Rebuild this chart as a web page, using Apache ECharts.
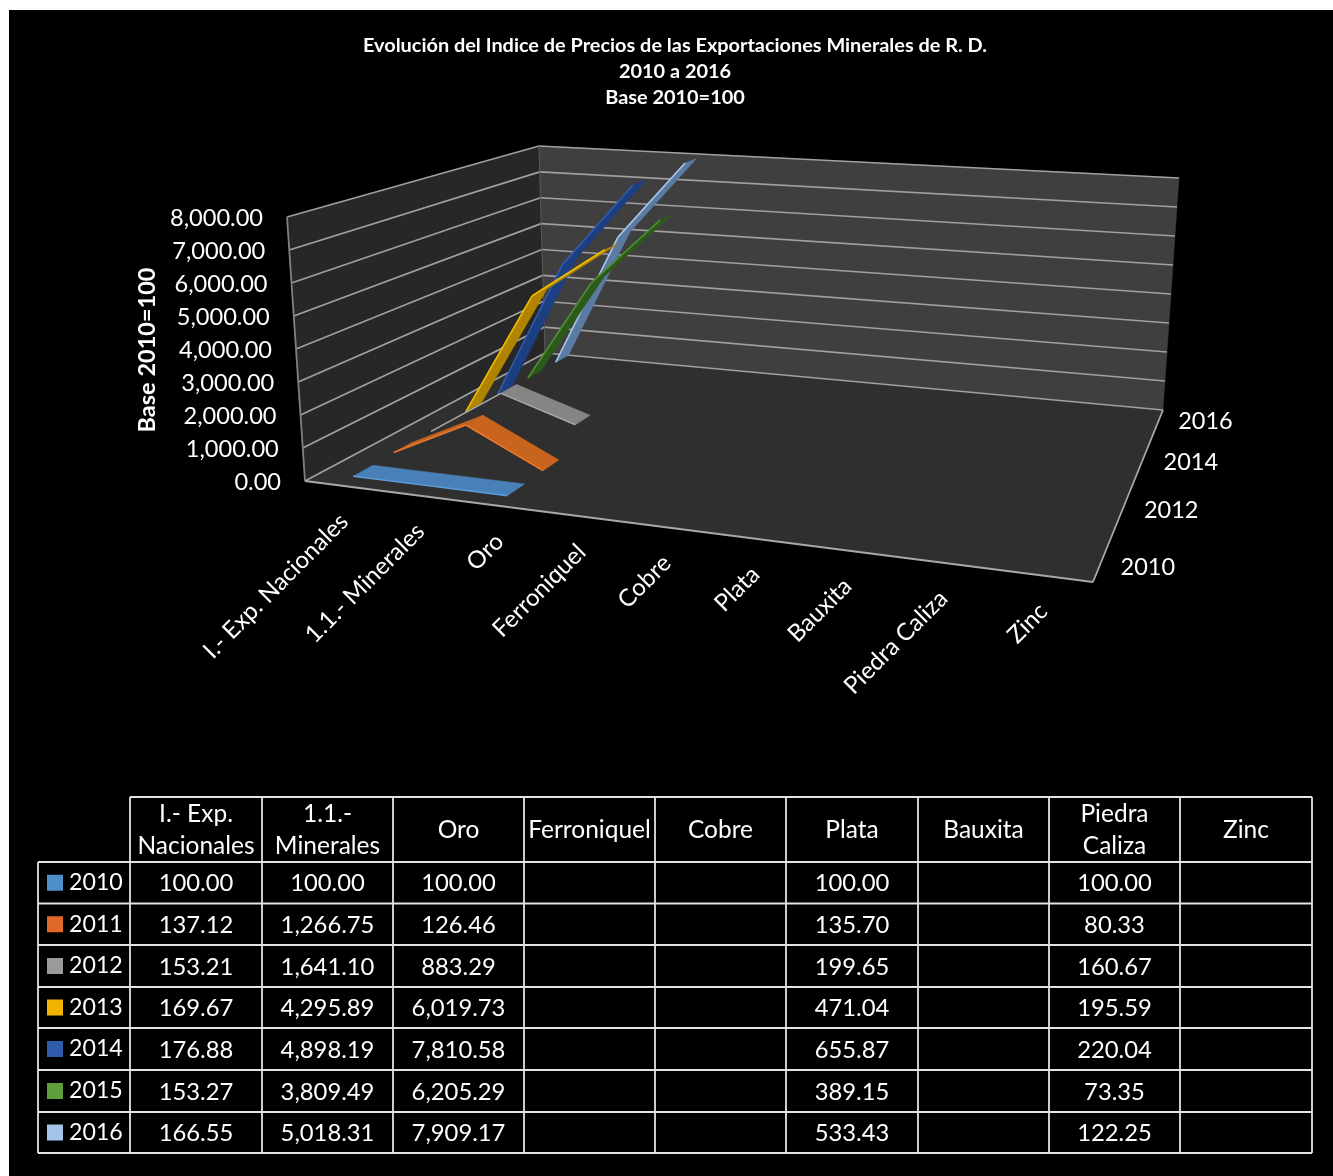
<!DOCTYPE html>
<html><head><meta charset="utf-8">
<style>html,body{margin:0;padding:0;background:#fff;width:1333px;height:1176px;overflow:hidden}
#bg{position:absolute;left:9px;top:10px;width:1324px;height:1166px;background:#000}
#c{position:absolute;left:0;top:0;width:1333px;height:1176px}</style>
<script src="https://cdn.jsdelivr.net/npm/echarts@6/dist/echarts.min.js"></script>
</head><body><div id="bg"></div><div id="c"></div>
<script>
const categories = ['I.- Exp. Nacionales','1.1.- Minerales','Oro','Ferroniquel','Cobre','Plata','Bauxita','Piedra Caliza','Zinc'];
const tableHeaders = [['I.- Exp.','Nacionales'],['1.1.-','Minerales'],['Oro'],['Ferroniquel'],['Cobre'],['Plata'],['Bauxita'],['Piedra','Caliza'],['Zinc']];
const years = ['2010','2011','2012','2013','2014','2015','2016'];
const values2010 = [100.00,100.00,100.00,null,null,100.00,null,100.00,null];
const values2011 = [137.12,1266.75,126.46,null,null,135.70,null,80.33,null];
const values2012 = [153.21,1641.10,883.29,null,null,199.65,null,160.67,null];
const values2013 = [169.67,4295.89,6019.73,null,null,471.04,null,195.59,null];
const values2014 = [176.88,4898.19,7810.58,null,null,655.87,null,220.04,null];
const values2015 = [153.27,3809.49,6205.29,null,null,389.15,null,73.35,null];
const values2016 = [166.55,5018.31,7909.17,null,null,533.43,null,122.25,null];
const allValues = [values2010,values2011,values2012,values2013,values2014,values2015,values2016];
const valueTicks = [0,1000,2000,3000,4000,5000,6000,7000,8000];
const depthTicks = [0,2,4,6];

const keyColors  = ['#4f8fc9','#e0692a','#9a9a9a','#f0b400','#2f5cab','#5f9e3a','#a3c3e8'];
const edgeColors = ['#5b9bd5','#e8772e','#a5a5a5','#f2bc00','#2f5cab','#4f8f30','#a9c6e8'];
const riseColors = ['#4a80b8','#c4621f','#858585','#b08400','#1c3f82','#2c5a1a','#5a7ba2'];
const fallColors = ['#4a80b8','#c9641f','#858585','#b08400','#1c3f82','#2c5a1a','#5a7ba2'];

// projective frame of the 3D box
function quadMap(p){
  const [p0,p1,p2,p3]=p;
  const dx1=p1[0]-p2[0],dx2=p3[0]-p2[0],sx=p0[0]-p1[0]+p2[0]-p3[0];
  const dy1=p1[1]-p2[1],dy2=p3[1]-p2[1],sy=p0[1]-p1[1]+p2[1]-p3[1];
  const d=dx1*dy2-dx2*dy1;
  const g=(sx*dy2-dx2*sy)/d,h=(dx1*sy-sx*dy1)/d;
  const a=p1[0]-p0[0]+g*p1[0],b=p3[0]-p0[0]+h*p3[0],c=p0[0];
  const e=p1[1]-p0[1]+g*p1[1],f=p3[1]-p0[1]+h*p3[1],i=p0[1];
  return (u,v)=>{const w=g*u+h*v+1;return [(a*u+b*v+c)/w,(e*u+f*v+i)/w];};
}
const floorMap = quadMap([[305,481],[1093,582],[1163,410],[545,353]]);
const topMap   = quadMap([[287,217],[1111,272],[1179,178],[539,146]]);
function P(u,v,w){const a=floorMap(u,v),b=topMap(u,v);return [a[0]+(b[0]-a[0])*w,a[1]+(b[1]-a[1])*w];}

const GRID=1000, halfRibbon=0.19;
const FONT='Lato, Carlito, sans-serif';
function fmt(x){return x.toLocaleString('en-US',{minimumFractionDigits:2,maximumFractionDigits:2});}
function poly(points,fill){return {type:'polygon',shape:{points},style:{fill,stroke:fill,lineWidth:0.5},silent:true};}
function line(a,b,color,width){return {type:'line',shape:{x1:a[0],y1:a[1],x2:b[0],y2:b[1]},style:{stroke:color,lineWidth:width,fill:null},silent:true};}
function txt(s,x,y,size,align,rot,weight,vAlign){return {type:'text',x,y,rotation:rot||0,silent:true,style:{text:s,x:0,y:0,fill:'#fff',fontFamily:FONT,fontSize:size,fontWeight:weight||'normal',align:align||'center',verticalAlign:vAlign||'middle'}};}

function frameItem(params,api){
  const ch=[];
  ch.push(poly([P(0,0,0),P(0,1,0),P(0,1,1),P(0,0,1)],'#272727'));
  ch.push(poly([P(0,1,0),P(1,1,0),P(1,1,1),P(0,1,1)],'#3f3f3f'));
  ch.push(poly([P(0,0,0),P(1,0,0),P(1,1,0),P(0,1,0)],'#2f2f2f'));
  const gc='#a0a0a0';
  valueTicks.forEach(t=>{
    const w=1-api.coord([0,t])[1]/GRID;
    ch.push(line(P(0,0,w),P(0,1,w),gc,1.7));
    ch.push(line(P(0,1,w),P(1,1,w),gc,1.7));
    const a=P(0,0,w);
    ch.push(txt(fmt(t),a[0]-24,a[1]+1.5,23.6,'right'));
  });
  ch.push(line(P(0,0,0),P(0,0,1),'#808080',1.8));
  ch.push(line(P(0,1,0),P(0,1,1),'#5a5a5a',1));
  ch.push(line(P(0,0,0),P(1,0,0),'#a8a8a8',1.8));
  ch.push(line(P(1,0,0),P(1,1,0),'#a8a8a8',1.8));
  categories.forEach((c,i)=>{
    const u=api.coord([i,0])[0]/GRID, a=P(u,0,0);
    ch.push(txt(c,a[0]+2,a[1]+32,24,'right',Math.PI/4));
  });
  depthTicks.forEach(i=>{
    const a=P(1,(i+0.5)/years.length,0);
    ch.push(txt(years[i],a[0]+21-(i===6?2:0),a[1]+2,23.5,'left',0));
  });
  return {type:'group',children:ch};
}

function ribbonItem(yi){
  return function(params,api){
    const i=api.value(0), vals=allValues[yi];
    if(vals[i]==null||i+1>=vals.length||vals[i+1]==null) return null;
    const a=api.coord([i,vals[i]]), b=api.coord([i+1,vals[i+1]]);
    const ua=a[0]/GRID,wa=1-a[1]/GRID,ub=b[0]/GRID,wb=1-b[1]/GRID;
    const c=(yi+0.5)/years.length, d=halfRibbon/years.length*1.25;
    const f1=P(ua,c-d,wa),f2=P(ub,c-d,wb),b1=P(ua,c+d,wa),b2=P(ub,c+d,wb);
    return {type:'group',children:[
      poly([f1,f2,b2,b1],wb>=wa?riseColors[yi]:fallColors[yi]),
      line(f1,f2,edgeColors[yi],1.6)
    ]};
  };
}

const chart=echarts.init(document.getElementById('c'),null,{renderer:'canvas'});

// data table
const tbl=[];
const colX=[130,262,393,524,655,786,918,1049,1180,1312];
const rowY=[797,862,903.5,945,987,1028,1070,1112,1153];
const tc='#e4e4e4';
function tl(x1,y1,x2,y2){tbl.push({type:'line',silent:true,shape:{x1,y1,x2,y2},style:{stroke:tc,lineWidth:1.8}});}
colX.forEach(x=>tl(x,797,x,1153));
tl(38,862,38,1153);
tl(130,797,1312,797);
rowY.slice(1).forEach(y=>tl(38,y,1312,y));
function gt(s,x,y,align,size){tbl.push({type:'text',silent:true,x,y,style:{text:s,fill:'#fff',fontFamily:FONT,fontSize:size,align:align||'center',verticalAlign:'middle'}});}
tableHeaders.forEach((h,i)=>{
  const x=(colX[i]+colX[i+1])/2;
  if(h.length===2){gt(h[0],x,814,'center',24.5);gt(h[1],x,846,'center',24.5);} else gt(h[0],x,830,'center',24.5);
});
years.forEach((y,r)=>{
  const cy=(rowY[r+1]+rowY[r+2])/2;
  tbl.push({type:'rect',silent:true,shape:{x:47,y:cy-8,width:16,height:16},style:{fill:keyColors[r]}});
  gt(y,69,cy,'left',23.2);
  allValues[r].forEach((v,i)=>{ if(v!=null) gt(fmt(v),(colX[i]+colX[i+1])/2,cy+1,'center',23.8); });
});
tbl.push({type:'text',silent:true,x:147,y:350,rotation:Math.PI/2,style:{text:'Base 2010=100',fill:'#fff',fontFamily:FONT,fontWeight:'bold',fontSize:23.5,align:'center',verticalAlign:'middle'}});

const series=[{type:'custom',name:'frame',coordinateSystem:'cartesian2d',data:[[0,0]],renderItem:frameItem,clip:false,silent:true,z:1,encode:{x:0,y:1}}];
for(let yi=years.length-1;yi>=0;yi--){
  series.push({type:'custom',name:years[yi],coordinateSystem:'cartesian2d',
    data:allValues[yi].map((v,i)=>[i,v]),renderItem:ribbonItem(yi),clip:false,silent:true,z:2+years.length-yi,encode:{x:0,y:1}});
}
chart.setOption({
  animation:false,
  backgroundColor:'transparent',
  title:{text:'Evolución del Indice de Precios de las Exportaciones Minerales de R. D.\n2010 a 2016\nBase 2010=100',
    left:670,top:28,textAlign:'center',textStyle:{color:'#fff',fontFamily:FONT,fontSize:19.9,fontWeight:'bold',lineHeight:26}},
  grid:{left:0,top:0,width:GRID,height:GRID,show:false},
  xAxis:{type:'category',data:categories,show:false,boundaryGap:true},
  yAxis:{type:'value',min:0,max:8000,interval:1000,show:false},
  graphic:{elements:tbl},
  series
});
</script></body></html>
